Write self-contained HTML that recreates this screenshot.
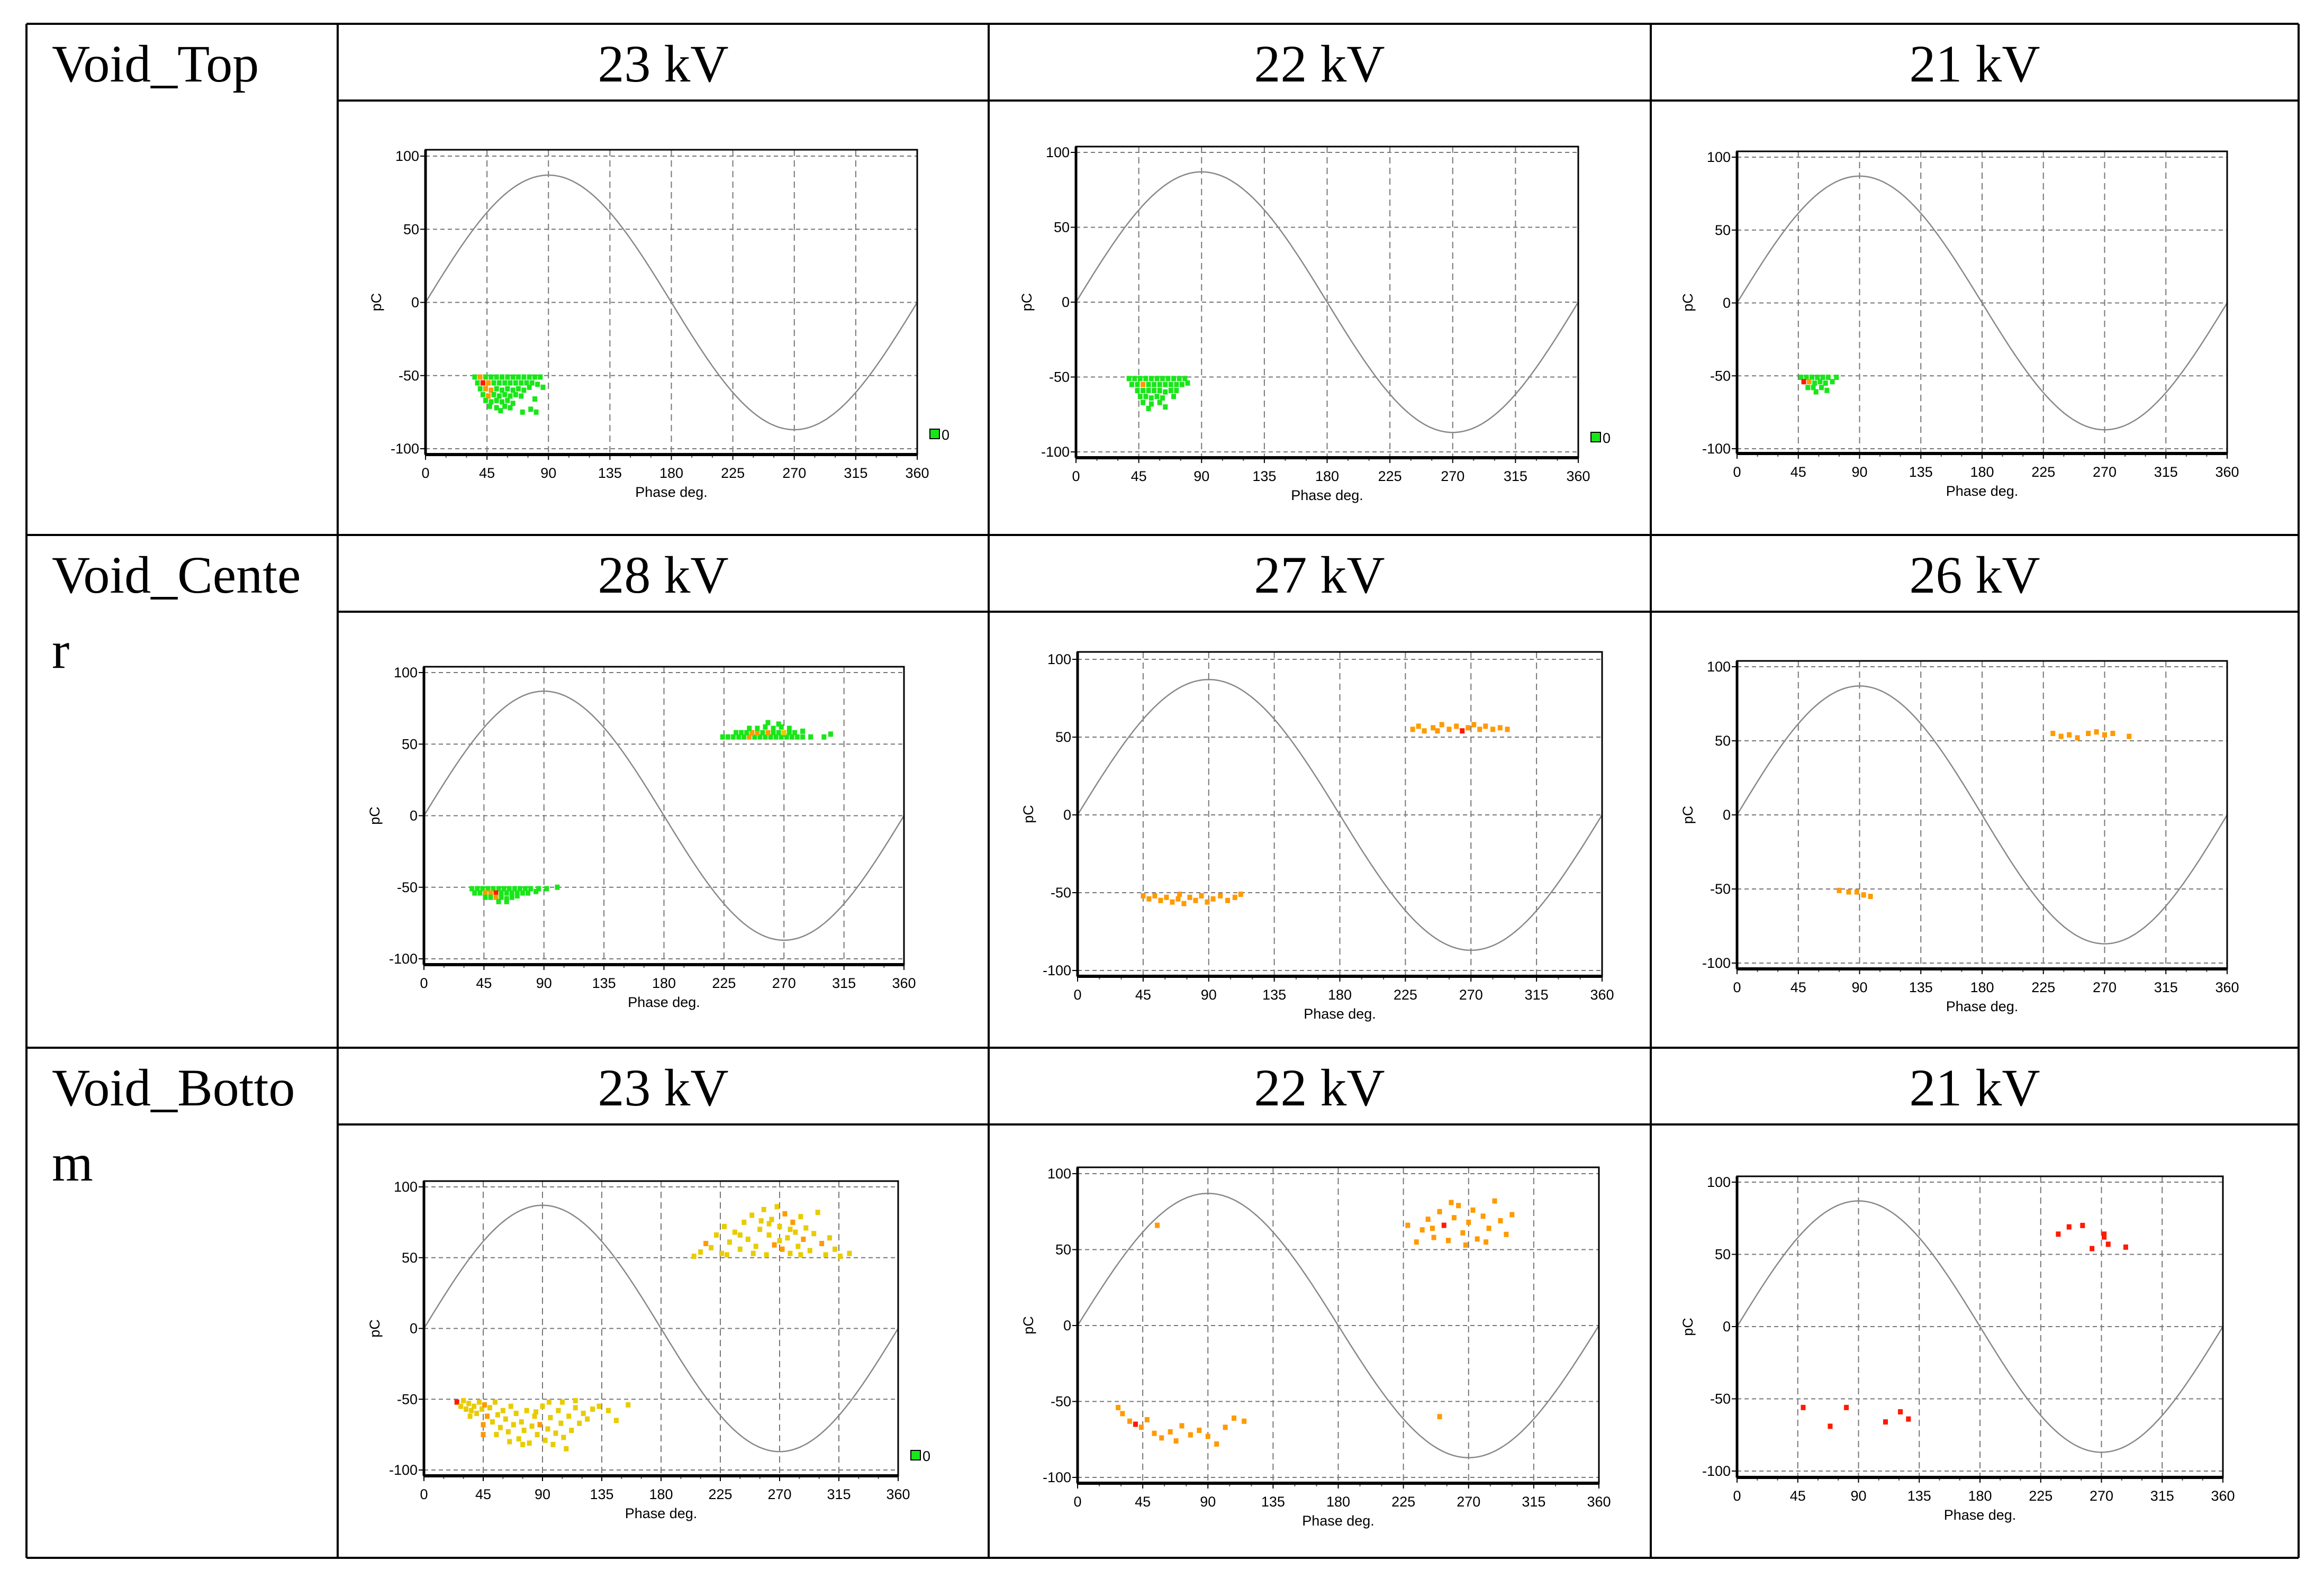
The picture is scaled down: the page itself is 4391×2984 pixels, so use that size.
<!DOCTYPE html>
<html><head><meta charset="utf-8"><style>
html,body{margin:0;padding:0;background:#fff;}
svg{display:block;}
.tk{font-family:"Liberation Sans Narrow","Liberation Sans",sans-serif;font-size:27px;fill:#000;}
.hd{font-family:"Liberation Serif",serif;font-size:100px;fill:#000;}
</style></head><body>
<svg id="root" xmlns="http://www.w3.org/2000/svg" width="4391" height="2984" viewBox="0 0 4391 2984">
<rect x="0" y="0" width="4391" height="2984" fill="#fff"/>
<g id="table" stroke="#000" stroke-width="4">
<line x1="50" y1="45" x2="4343" y2="45"/>
<line x1="50" y1="2944" x2="4343" y2="2944"/>
<line x1="50" y1="1011" x2="4343" y2="1011"/>
<line x1="50" y1="1980" x2="4343" y2="1980"/>
<line x1="638" y1="190" x2="4343" y2="190"/>
<line x1="638" y1="1156" x2="4343" y2="1156"/>
<line x1="638" y1="2125" x2="4343" y2="2125"/>
<line x1="50" y1="45" x2="50" y2="2944"/>
<line x1="638" y1="45" x2="638" y2="2944"/>
<line x1="1868" y1="45" x2="1868" y2="2944"/>
<line x1="3119" y1="45" x2="3119" y2="2944"/>
<line x1="4343" y1="45" x2="4343" y2="2944"/>
</g>
<text class="hd" x="98" y="154">Void_Top</text>
<text class="hd" x="98" y="1120"><tspan x="98">Void_Cente</tspan><tspan x="98" y="1262">r</tspan></text>
<text class="hd" x="98" y="2089"><tspan x="98">Void_Botto</tspan><tspan x="98" y="2231">m</tspan></text>
<text class="hd" x="1253" y="154" text-anchor="middle">23 kV</text>
<text class="hd" x="2493" y="154" text-anchor="middle">22 kV</text>
<text class="hd" x="3731" y="154" text-anchor="middle">21 kV</text>
<text class="hd" x="1253" y="1120" text-anchor="middle">28 kV</text>
<text class="hd" x="2493" y="1120" text-anchor="middle">27 kV</text>
<text class="hd" x="3731" y="1120" text-anchor="middle">26 kV</text>
<text class="hd" x="1253" y="2089" text-anchor="middle">23 kV</text>
<text class="hd" x="2493" y="2089" text-anchor="middle">22 kV</text>
<text class="hd" x="3731" y="2089" text-anchor="middle">21 kV</text>
<g id="charts"></g>
</svg>
<script>
// ---- data: [phase deg, charge pC, colour code] ----
const xTicks = [0,45,90,135,180,225,270,315,360];
const yTicks = [100,50,0,-50,-100];
const sineAmplitude = 87;

const top23 = [[36,-51,'g'],[40,-51,'o'],[44,-51,'g'],[48,-51,'g'],[52,-51,'g'],[56,-51,'g'],[60,-51,'g'],[64,-51,'g'],[68,-51,'g'],[72,-51,'g'],[76,-51,'g'],[80,-51,'g'],[84,-51,'g'],
[38,-55,'g'],[42,-55,'r'],[46,-55,'o'],[50,-55,'g'],[54,-55,'g'],[58,-55,'g'],[62,-55,'g'],[66,-55,'g'],[70,-55,'g'],[74,-55,'g'],[78,-55,'g'],[82,-56,'g'],
[40,-59,'g'],[44,-59,'o'],[48,-60,'o'],[52,-59,'g'],[56,-60,'g'],[60,-59,'g'],[64,-60,'g'],[68,-59,'g'],[72,-60,'g'],[76,-58,'g'],[86,-58,'g'],
[42,-63,'g'],[46,-64,'o'],[50,-63,'g'],[54,-64,'g'],[58,-63,'g'],[62,-64,'g'],[66,-63,'g'],[70,-64,'g'],
[44,-67,'g'],[48,-68,'g'],[52,-67,'g'],[56,-68,'g'],[60,-67,'g'],[64,-69,'g'],[80,-66,'g'],
[47,-71,'g'],[52,-72,'g'],[58,-71,'g'],[62,-72,'g'],[77,-73,'g'],[71,-75,'g'],[55,-74,'g'],[81,-75,'g']];

const top22 = [[38,-51,'g'],[42,-51,'g'],[46,-51,'g'],[50,-51,'g'],[54,-51,'g'],[58,-51,'g'],[62,-51,'g'],[66,-51,'g'],[70,-51,'g'],[74,-51,'g'],[78,-51,'g'],
[40,-55,'g'],[44,-55,'g'],[48,-55,'o'],[52,-55,'g'],[56,-55,'g'],[60,-55,'g'],[64,-55,'g'],[68,-55,'g'],[72,-55,'g'],[76,-55,'g'],[80,-54,'g'],
[44,-59,'g'],[48,-59,'g'],[52,-59,'g'],[56,-59,'g'],[60,-59,'g'],[64,-60,'g'],[68,-59,'g'],[72,-59,'g'],
[46,-63,'g'],[50,-63,'g'],[54,-64,'g'],[58,-63,'g'],[62,-64,'g'],[70,-63,'g'],
[48,-67,'g'],[54,-68,'g'],[60,-67,'g'],[52,-71,'g'],[64,-70,'g']];

const top21 = [[47,-51,'g'],[51,-51,'g'],[55,-51,'g'],[59,-51,'g'],[63,-51,'g'],[67,-51,'g'],[73,-51,'g'],
[49,-54,'r'],[53,-54,'o'],[57,-55,'g'],[61,-54,'g'],[65,-55,'g'],[70,-54,'g'],
[52,-58,'g'],[56,-58,'g'],[62,-58,'g'],[58,-61,'g'],[66,-60,'g']];

const center28 = [[36,-51,'g'],[40,-51,'g'],[44,-51,'g'],[48,-51,'g'],[52,-51,'g'],[56,-51,'g'],[60,-51,'g'],[64,-51,'g'],[68,-51,'g'],[72,-51,'g'],[76,-51,'g'],[80,-51,'g'],[86,-51,'g'],[92,-51,'g'],[100,-50,'g'],
[38,-54,'g'],[42,-54,'g'],[46,-54,'o'],[50,-54,'o'],[54,-54,'r'],[58,-54,'g'],[62,-54,'g'],[66,-54,'g'],[70,-54,'g'],[74,-54,'g'],[78,-54,'g'],[84,-53,'g'],
[46,-57,'g'],[50,-57,'g'],[54,-57,'o'],[58,-57,'g'],[62,-58,'g'],[66,-57,'g'],[70,-56,'g'],[56,-60,'g'],[62,-60,'g'],
[224,55,'g'],[228,55,'g'],[232,55,'g'],[236,55,'g'],[240,55,'g'],[244,55,'o'],[248,55,'g'],[252,55,'g'],[256,55,'g'],[260,55,'g'],[264,55,'g'],[268,55,'g'],[272,55,'g'],[276,55,'g'],[280,55,'g'],[284,55,'g'],[290,55,'g'],[300,55,'g'],[305,57,'g'],
[234,58,'g'],[238,58,'g'],[242,58,'g'],[246,58,'o'],[250,58,'o'],[254,58,'g'],[258,58,'o'],[262,58,'g'],[266,58,'g'],[270,58,'y'],[274,58,'g'],[278,58,'g'],[284,59,'g'],
[244,61,'g'],[250,61,'g'],[256,62,'g'],[262,61,'g'],[268,62,'g'],[274,61,'g'],[258,65,'g'],[266,64,'g']];

const center27 = [[45,-52,'o'],[49,-54,'o'],[53,-52,'o'],[57,-55,'o'],[61,-53,'o'],[65,-56,'o'],[69,-54,'o'],[73,-57,'o'],[77,-53,'o'],[81,-55,'o'],[85,-52,'o'],[89,-56,'o'],[93,-54,'o'],[98,-52,'o'],[103,-55,'o'],[108,-53,'o'],[112,-51,'o'],[70,-51,'o'],
[230,55,'o'],[234,57,'o'],[238,54,'o'],[244,56,'o'],[250,58,'o'],[255,55,'o'],[260,57,'o'],[264,54,'r'],[268,56,'o'],[272,58,'o'],[276,55,'o'],[280,57,'o'],[285,55,'o'],[290,56,'o'],[295,55,'o'],[247,54,'o']];

const center26 = [[232,55,'o'],[238,53,'o'],[244,54,'o'],[250,52,'o'],[258,55,'o'],[264,56,'o'],[270,54,'o'],[276,55,'o'],[288,53,'o'],
[75,-51,'o'],[82,-52,'o'],[88,-52,'o'],[93,-54,'o'],[98,-55,'o']];

const bottom23 = [[25,-52,'r'],[28,-55,'y'],[30,-51,'y'],[32,-57,'y'],[34,-53,'y'],[36,-58,'y'],[38,-55,'y'],[40,-60,'y'],[42,-52,'y'],[44,-57,'y'],[46,-54,'o'],[48,-62,'o'],[50,-56,'y'],[52,-66,'y'],[54,-52,'y'],[56,-61,'y'],[58,-70,'y'],[60,-58,'y'],[62,-64,'y'],[64,-73,'y'],[66,-55,'y'],[68,-68,'y'],[70,-60,'y'],[72,-78,'y'],[74,-66,'y'],[76,-72,'y'],[78,-58,'y'],[80,-81,'y'],[82,-69,'y'],[84,-62,'y'],[86,-75,'y'],[88,-68,'o'],[90,-55,'y'],[92,-79,'y'],[94,-71,'y'],[96,-63,'y'],[98,-82,'y'],[100,-74,'y'],[102,-58,'y'],[104,-67,'y'],[106,-77,'y'],[108,-85,'y'],[110,-62,'y'],[112,-72,'y'],[115,-56,'y'],[118,-67,'y'],[121,-60,'y'],[124,-64,'y'],[128,-57,'y'],[133,-55,'y'],[140,-58,'y'],[146,-65,'y'],[155,-54,'y'],
[35,-62,'y'],[45,-68,'o'],[45,-75,'o'],[55,-75,'y'],[65,-80,'y'],[75,-82,'y'],[85,-59,'y'],[95,-52,'y'],[105,-52,'y'],[115,-51,'y'],
[205,51,'y'],[210,54,'y'],[214,60,'o'],[218,57,'y'],[222,66,'y'],[226,53,'y'],[228,72,'y'],[232,61,'y'],[236,68,'y'],[240,56,'y'],[243,75,'y'],[246,63,'y'],[249,80,'y'],[252,58,'y'],[255,70,'y'],[258,84,'y'],[260,52,'y'],[262,66,'y'],[264,77,'y'],[266,59,'o'],[268,86,'y'],[270,72,'y'],[272,56,'o'],[274,81,'o'],[276,64,'y'],[278,53,'y'],[280,75,'o'],[282,68,'y'],[284,58,'y'],[286,79,'y'],[288,63,'o'],[290,71,'y'],[293,55,'y'],[296,67,'y'],[299,82,'y'],[302,60,'o'],[305,52,'y'],[308,64,'y'],[312,56,'y'],[316,51,'y'],[323,53,'y'],
[230,52,'y'],[250,53,'y'],[262,74,'y'],[270,62,'y'],[278,70,'y'],[286,52,'y'],[240,66,'y'],[256,76,'y']];

const bottom22 = [[28,-54,'o'],[31,-58,'o'],[36,-63,'o'],[40,-65,'r'],[44,-67,'o'],[48,-62,'o'],[53,-71,'o'],[58,-74,'o'],[64,-70,'o'],[68,-76,'o'],[72,-66,'o'],[78,-72,'o'],[84,-69,'o'],[90,-73,'o'],[96,-78,'o'],[102,-67,'o'],[108,-61,'o'],[115,-63,'o'],[55,66,'o'],[250,-60,'o'],
[228,66,'o'],[234,55,'o'],[238,63,'o'],[242,70,'o'],[246,58,'o'],[250,75,'o'],[253,66,'r'],[256,56,'o'],[260,71,'o'],[263,79,'o'],[266,61,'o'],[270,68,'o'],[273,76,'o'],[276,57,'o'],[280,72,'o'],[284,64,'o'],[288,82,'o'],[292,69,'o'],[296,60,'o'],[300,73,'o'],[268,53,'o'],[282,55,'o'],[258,81,'o'],[245,64,'o']];

const bottom21 = [[238,64,'r'],[246,69,'r'],[256,70,'r'],[272,64,'r'],[272,62,'r'],[263,54,'r'],[275,57,'r'],[288,55,'r'],
[49,-56,'r'],[69,-69,'r'],[81,-56,'r'],[110,-66,'r'],[121,-59,'r'],[127,-64,'r']];

// ---- layout (pixel geometry per panel) ----
const panels = [
 {name:'void-top-23kv', pts:top23, x0:804,x1:1733,yp:295,yn:848,ft:283,fb:859, leg:true},
 {name:'void-top-22kv', pts:top22, x0:2033,x1:2982,yp:288,yn:854,ft:277,fb:865, leg:true},
 {name:'void-top-21kv', pts:top21, x0:3282,x1:4208,yp:297,yn:848,ft:286,fb:857, leg:false},
 {name:'void-center-28kv', pts:center28, x0:801,x1:1708,yp:1271,yn:1812,ft:1260,fb:1823, leg:false},
 {name:'void-center-27kv', pts:center27, x0:2036,x1:3027,yp:1246,yn:1834,ft:1232,fb:1845, leg:false},
 {name:'void-center-26kv', pts:center26, x0:3282,x1:4208,yp:1260,yn:1820,ft:1249,fb:1831, leg:false},
 {name:'void-bottom-23kv', pts:bottom23, x0:801,x1:1697,yp:2243,yn:2778,ft:2232,fb:2789, leg:true},
 {name:'void-bottom-22kv', pts:bottom22, x0:2036,x1:3021,yp:2218,yn:2792,ft:2206,fb:2803, leg:false},
 {name:'void-bottom-21kv', pts:bottom21, x0:3282,x1:4200,yp:2234,yn:2780,ft:2223,fb:2792, leg:false}
];
const colours = {g:'#19e619', y:'#e8cc00', o:'#ff9a00', r:'#ff1a00'};
const NS = 'http://www.w3.org/2000/svg';
const root = document.getElementById('charts');
function mk(tag, attrs, parent){ const e=document.createElementNS(NS,tag); for(const k in attrs) e.setAttribute(k,attrs[k]); parent.appendChild(e); return e; }

panels.forEach(p=>{
  const g = mk('g',{},root);
  
  
  const xs = v => p.x0 + (v/360)*(p.x1-p.x0);
  const ys = v => p.yp + ((100-v)/200)*(p.yn-p.yp);
  // grid
  xTicks.forEach(t=>{
    if(t>0 && t<360){
      const l = mk('line',{x1:xs(t),x2:xs(t),y1:p.ft,y2:p.fb,stroke:'#777','stroke-width':2,'stroke-dasharray':'12,8'},g);
      
      
    }
    const tl = mk('text',{x:xs(t),y:p.fb+44,'text-anchor':'middle',class:'tk'},g);
    tl.textContent = t;
    
    
    mk('line',{x1:xs(t),x2:xs(t),y1:p.fb,y2:p.fb+10,stroke:'#000','stroke-width':2},g);
  });
  for(let m=15;m<360;m+=15){ if(m%45) mk('line',{x1:xs(m),x2:xs(m),y1:p.fb,y2:p.fb+6,stroke:'#555','stroke-width':2},g); }
  yTicks.forEach(t=>{
    const l = mk('line',{x1:p.x0,x2:p.x1,y1:ys(t),y2:ys(t),stroke:'#777','stroke-width':2,'stroke-dasharray':'8,6'},g);
    
    
    mk('line',{x1:p.x0-10,x2:p.x0,y1:ys(t),y2:ys(t),stroke:'#000','stroke-width':2},g);
    const tl = mk('text',{x:p.x0-12,y:ys(t)+9,'text-anchor':'end',class:'tk'},g);
    tl.textContent = t;
    
    
  });
  // sine reference
  let d='';
  for(let a=0;a<=360;a+=2){ d += (a?'L':'M')+xs(a).toFixed(1)+','+ys(sineAmplitude*Math.sin(a*Math.PI/180)).toFixed(1); }
  const s = mk('path',{d:d,fill:'none',stroke:'#888','stroke-width':2.5},g);
  
  
  // points
  const w = 9, h = 10;
  p.pts.forEach(pt=>{
    const r = mk('rect',{x:xs(pt[0])-w/2,y:ys(pt[1])-h/2,width:w,height:h,fill:colours[pt[2]]},g);
    
    
  });
  // frame
  mk('rect',{x:p.x0,y:p.ft,width:p.x1-p.x0,height:p.fb-p.ft,fill:'none',stroke:'#000','stroke-width':3},g);
  mk('line',{x1:p.x0,x2:p.x0,y1:p.ft,y2:p.fb,stroke:'#000','stroke-width':5},g);
  mk('line',{x1:p.x0,x2:p.x1,y1:p.fb,y2:p.fb,stroke:'#000','stroke-width':6},g);
  // axis titles
  const xt = mk('text',{x:(p.x0+p.x1)/2,y:p.fb+80,'text-anchor':'middle',class:'tk'},g);
  xt.textContent = 'Phase deg.';
  
  
  const yc = (p.ft+p.fb)/2;
  const yt = mk('text',{x:p.x0-84,y:yc,'text-anchor':'middle',class:'tk',transform:'rotate(-90 '+(p.x0-84)+' '+yc+')'},g);
  yt.textContent = 'pC';
  
  
  if(p.leg){
    const lg = mk('g',{},g);
    
    
    mk('rect',{x:p.x1+24,y:p.fb-48,width:18,height:18,fill:'#19e619',stroke:'#000','stroke-width':2},lg);
    const lt = mk('text',{x:p.x1+46,y:p.fb-28,class:'tk'},lg);
    lt.textContent='0';
  }
});
</script>
</body></html>
